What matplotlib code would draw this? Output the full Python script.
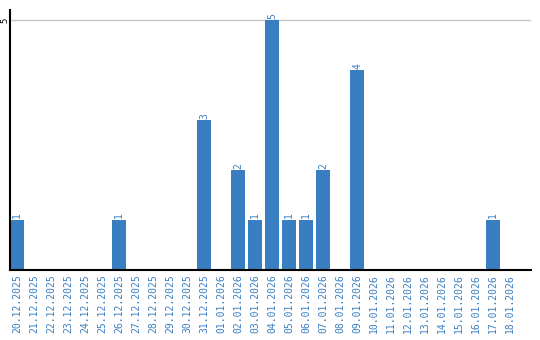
import pandas as pd
import numpy as np
import matplotlib
matplotlib.use("Agg")
import matplotlib.pyplot as plt

# daily counts, 20.12.2025 - 18.01.2026
dates = pd.date_range("2025-12-20", "2026-01-18", freq="D")
date_labels = [d.strftime("%d.%m.%Y") for d in dates]
counts = [1, 0, 0, 0, 0, 0, 1, 0, 0, 0,
          0, 3, 0, 2, 1, 5, 1, 1, 2, 0,
          4, 0, 0, 0, 0, 0, 0, 0, 1, 0]
y_ticks = [5]

blue = "#3a7ec2"

fig = plt.figure(figsize=(5.4, 3.4), dpi=100)
ax = fig.add_axes([10 / 540, 70 / 340, 521 / 540, 260 / 340])

x = np.arange(len(counts))
ax.bar(x, counts, width=0.82, color=blue, zorder=2)

# value labels above bars
for xi, v in zip(x, counts):
    if v > 0:
        ax.text(xi, v + 0.03, str(v), rotation=90, ha="center", va="bottom",
                color=blue, fontsize=7, family="DejaVu Sans Mono")

ax.set_xlim(-0.41, 30.23)
ax.set_ylim(0, 5.2)
ax.set_xticks(x)
ax.set_xticklabels(date_labels, rotation=90, color=blue, fontsize=7,
                   family="DejaVu Sans Mono")
ax.set_yticks(y_ticks)
ax.set_yticklabels([str(t) for t in y_ticks], rotation=90, fontsize=6.5,
                   va="center", family="DejaVu Sans Mono")
ax.tick_params(length=0, pad=3)
ax.tick_params(axis="y", pad=0.5)
ax.grid(axis="y", color="#c8c8c8", linewidth=1, zorder=1)

for s in ["top", "right"]:
    ax.spines[s].set_visible(False)
ax.spines["left"].set_linewidth(1.5)
ax.spines["bottom"].set_linewidth(1.5)

fig.savefig("out.png", dpi=100)
